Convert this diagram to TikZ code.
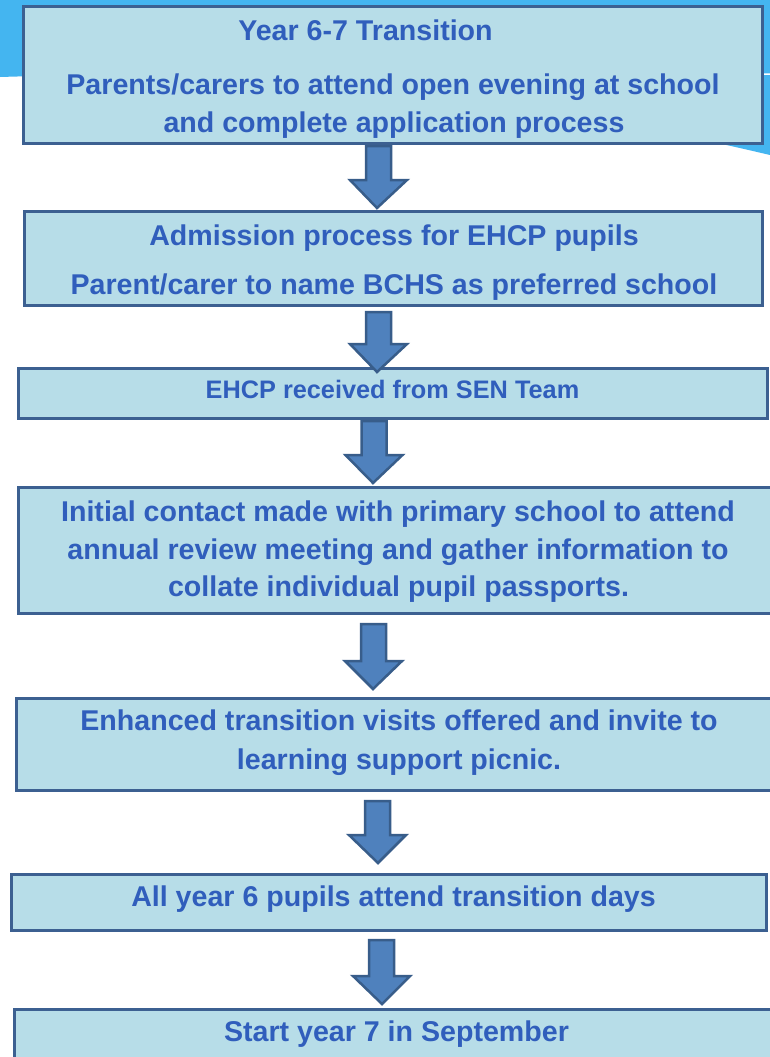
\documentclass[tikz,border=0pt]{standalone}
\usepackage{fontspec}
\setmainfont{Liberation Sans}
\usetikzlibrary{calc}
\definecolor{skyblue}{RGB}{68,181,240}
\definecolor{boxfill}{RGB}{183,221,232}
\definecolor{boxline}{RGB}{60,96,145}
\definecolor{arrfill}{RGB}{79,129,189}
\definecolor{arrline}{RGB}{56,93,138}
\definecolor{txtblue}{RGB}{48,94,188}
\tikzset{
  flowbox/.style={draw=boxline, fill=boxfill, line width=3pt, rectangle, inner sep=0pt},
  bigtxt/.style={anchor=base, inner sep=0pt, text=txtblue, font=\fontsize{28.6}{38}\selectfont\bfseries},
  smalltxt/.style={anchor=base, inner sep=0pt, text=txtblue, font=\fontsize{25.3}{30}\selectfont\bfseries},
  barrowstyle/.style={draw=arrline, fill=arrfill, line width=2.5pt, line join=miter}
}
\newcommand\blockarrow[2]{%
  \draw[barrowstyle] let \p1=(#1), \p2=(#2) in
    (\x1-12.5,\y1) -- (\x1+12.5,\y1) -- (\x1+12.5,\y2+28) -- (\x1+28.5,\y2+28)
    -- (\x2,\y2) -- (\x1-28.5,\y2+28) -- (\x1-12.5,\y2+28) -- cycle;}
\begin{document}
\begin{tikzpicture}[x=1pt,y=-1pt]
\useasboundingbox (0,0) rectangle (770,1057);
\fill[white] (0,0) rectangle (770,1057);
% background swoosh
\fill[skyblue] (0,0) -- (770,0) -- (770,155)
  .. controls (600,115) and (350,66) .. (0,77) -- cycle;
\draw[white, line width=1.5pt] (770,74) .. controls (740,75) and (720,77) .. (700,79);

% boxes
\node[flowbox, minimum width=739pt, minimum height=137pt] (b1) at (393,75) {};
\node[flowbox, minimum width=738pt, minimum height=94pt] (b2) at (393.5,258.5) {};
\node[flowbox, minimum width=749pt, minimum height=50pt] (b3) at (393,393.5) {};
\node[flowbox, minimum width=759pt, minimum height=126pt] (b4) at (398,550.5) {};
\node[flowbox, minimum width=765pt, minimum height=92pt] (b5) at (399,744.5) {};
\node[flowbox, minimum width=755pt, minimum height=56pt] (b6) at (389,902.5) {};
\node[flowbox, minimum width=765pt, minimum height=80pt] (b7) at (397,1049.5) {};

% texts
\node[bigtxt] (t1a) at (365.5,41) {Year 6-7 Transition};
\node[bigtxt] (t1b) at (393,94) {Parents/carers to attend open evening at school};
\node[bigtxt] (t1c) at (394,132) {and complete application process};
\node[bigtxt] (t2a) at (394,245.5) {Admission process for EHCP pupils};
\node[bigtxt] (t2b) at (394,294) {Parent/carer to name BCHS as preferred school};
\node[smalltxt] (t3) at (392.5,398.5) {EHCP received from SEN Team};
\node[bigtxt] (t4a) at (398,521.5) {Initial contact made with primary school to attend};
\node[bigtxt] (t4b) at (398,559) {annual review meeting and gather information to};
\node[bigtxt] (t4c) at (398.5,596.5) {collate individual pupil passports.};
\node[bigtxt] (t5a) at (399,730.5) {Enhanced transition visits offered and invite to};
\node[bigtxt] (t5b) at (399,769.5) {learning support picnic.};
\node[bigtxt] (t6) at (393.5,906.5) {All year 6 pupils attend transition days};
\node[bigtxt] (t7) at (396.5,1041.5) {Start year 7 in September};

% arrow end points
\coordinate (s1) at (378.5,146); \coordinate (e1) at (377,208);
\coordinate (s2) at (378.5,312); \coordinate (e2) at (377,372);
\coordinate (s3) at (374,421);   \coordinate (e3) at (373,483);
\coordinate (s4) at (373.5,624); \coordinate (e4) at (373,689);
\coordinate (s5) at (377.5,801); \coordinate (e5) at (378,863);
\coordinate (s6) at (381.5,940); \coordinate (e6) at (382,1004);
\blockarrow{s1}{e1}
\blockarrow{s2}{e2}
\blockarrow{s3}{e3}
\blockarrow{s4}{e4}
\blockarrow{s5}{e5}
\blockarrow{s6}{e6}
\end{tikzpicture}
\end{document}
